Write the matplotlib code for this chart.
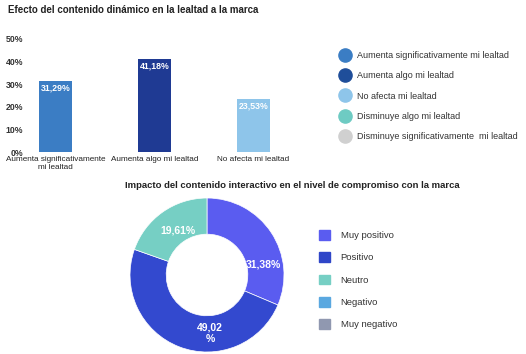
import matplotlib.pyplot as plt
from matplotlib.lines import Line2D
from matplotlib.patches import Patch

plt.rcParams['font.family'] = ['Liberation Sans', 'DejaVu Sans']

# datos del grafico de barras
bar_cats = ["Aumenta significativamente\nmi lealtad", "Aumenta algo mi lealtad", "No afecta mi lealtad"]
bar_vals = [31.29, 41.18, 23.53]
bar_labels = ["31,29%", "41,18%", "23,53%"]
bar_colors = ["#3b7dc4", "#1f3a93", "#8ec5ea"]

legend1_labels = ["Aumenta significativamente mi lealtad", "Aumenta algo mi lealtad",
                  "No afecta mi lealtad", "Disminuye algo mi lealtad",
                  "Disminuye significativamente  mi lealtad"]
legend1_colors = ["#3b7dc4", "#1f4e9a", "#8ec5ea", "#6ecbc3", "#d0d0d0"]

y_ticks = [0, 10, 20, 30, 40, 50]

# datos del grafico de dona
pie_vals = [31.38, 49.02, 19.61]
pie_labels = ["31,38%", "49,02\n%", "19,61%"]
pie_colors = ["#5a5cf0", "#3349cf", "#76cfc4"]

legend2_labels = ["Muy positivo", "Positivo", "Neutro", "Negativo", "Muy negativo"]
legend2_colors = ["#5a5cf0", "#2f46c8", "#76cfc4", "#5aa8e0", "#9098b0"]

W, H = 526, 354
fig = plt.figure(figsize=(W / 100, H / 100), dpi=100)
fig.patch.set_facecolor("white")


def px_axes(left, top, width, height):
    return fig.add_axes([left / W, 1 - (top + height) / H, width / W, height / H])


# ---- barras ----
ax = px_axes(33, 39, 250, 113)
x = list(range(len(bar_vals)))
ax.bar(x, bar_vals, width=0.33, color=bar_colors)
for xi, v, lab in zip(x, bar_vals, bar_labels):
    ax.text(xi, v - 1.2, lab, ha="center", va="top", color="white",
            fontsize=6.3, fontweight="bold")
ax.set_xlim(-0.23, 2.3)
ax.set_ylim(0, 50)
ax.set_yticks(y_ticks)
ax.set_yticklabels([f"{t}%" for t in y_ticks], fontsize=6.3, color="#333333",
                   fontweight="bold")
ax.set_xticks(x)
ax.set_xticklabels(bar_cats, fontsize=5.9, color="#222222", linespacing=1.1)
ax.tick_params(length=0, pad=7, axis="y")
ax.tick_params(length=0, pad=3, axis="x")
for s in ax.spines.values():
    s.set_visible(False)

fig.text(8 / W, 1 - 10 / H, "Efecto del contenido dinámico en la lealtad a la marca",
         fontsize=7, fontweight="bold", color="#222222", va="center")

h1 = [Line2D([], [], marker="o", linestyle="", markersize=9.5,
             markerfacecolor=c, markeredgecolor=c) for c in legend1_colors]
fig.legend(h1, legend1_labels, loc="upper left", bbox_to_anchor=(340 / W, 1 - 51 / H),
           frameon=False, fontsize=6.5, labelspacing=1.25, handlelength=1.0,
           handletextpad=0.85, labelcolor="#333333", borderaxespad=0, borderpad=0)

# ---- dona ----
fig.text(292 / W, 1 - 185 / H,
         "Impacto del contenido interactivo en el nivel de compromiso con la marca",
         fontsize=6.8, fontweight="bold", color="#222222", ha="center", va="center")

ax2 = px_axes(130, 198, 154, 154)
wedges, _ = ax2.pie(pie_vals, colors=pie_colors, startangle=90, counterclock=False,
                    radius=1, wedgeprops=dict(width=0.47, edgecolor="white", linewidth=0.5))
ax2.set_xlim(-1, 1)
ax2.set_ylim(-1, 1)
label_pos = [(0.73, 0.13), (0.04, -0.76), (-0.38, 0.58)]
for (lx, ly), lab in zip(label_pos, pie_labels):
    ax2.text(lx, ly, lab, ha="center", va="center", color="white",
             fontsize=7.5, fontweight="bold")

h2 = [Patch(facecolor=c, edgecolor=c) for c in legend2_colors]
fig.legend(h2, legend2_labels, loc="upper left", bbox_to_anchor=(319 / W, 1 - 230 / H),
           frameon=False, fontsize=6.8, labelspacing=1.3, handlelength=1.2,
           handleheight=1.2, handletextpad=1.1, labelcolor="#333333",
           borderaxespad=0, borderpad=0)

fig.savefig("out.png", dpi=100)
